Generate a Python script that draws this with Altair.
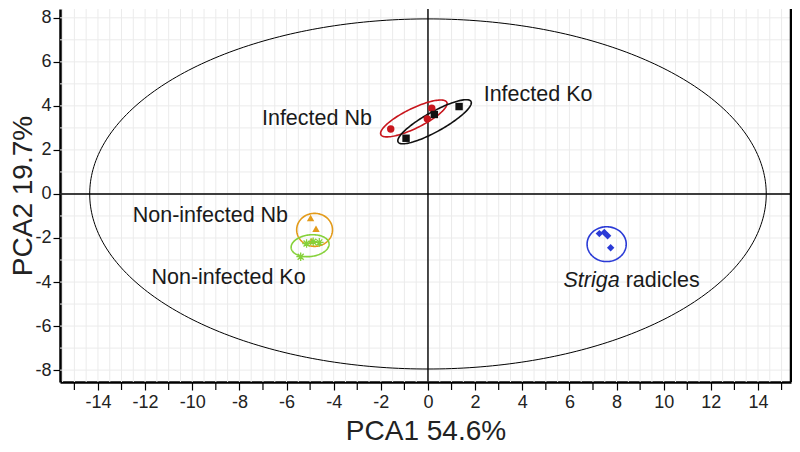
import altair as alt
import numpy as np
import pandas as pd

FONT = "Liberation Sans"

# ---------------- data ----------------
groups = ["Infected Nb", "Infected Ko", "Non-infected Nb", "Non-infected Ko", "Striga radicles"]
colors = ["#c8161d", "#111111", "#e39b1b", "#86d13a", "#2a3ad6"]
shapes = ["circle", "square", "triangle-up", "cross", "diamond"]

inf_nb_x = [-1.58, 0.16, -0.03]
inf_nb_y = [2.95, 3.89, 3.41]
inf_ko_x = [-0.93, 0.27, 1.32]
inf_ko_y = [2.53, 3.61, 3.97]
non_nb_x = [-4.98, -4.75, -4.93]
non_nb_y = [-1.09, -1.58, -2.13]
non_ko_x = [-5.15, -4.61, -5.40, -4.87]
non_ko_y = [-2.25, -2.20, -2.85, -2.17]
striga_x = [7.27, 7.48, 7.62, 7.75]
striga_y = [-1.80, -1.75, -1.90, -2.44]

# group confidence ellipses: centre, semi-axes, rotation (deg)
ell_cx = [-0.60, 0.28, -4.81, -5.00, 7.58]
ell_cy = [3.43, 3.28, -1.63, -2.35, -2.28]
ell_a = [1.58, 1.80, 0.76, 0.81, 0.83]
ell_b = [0.44, 0.44, 0.75, 0.49, 0.79]
ell_ang = [28, 31, 0, 8, 0]

# Hotelling T2 ellipse semi-axes
t2_a = 14.35
t2_b = 7.95

label_text = ["Infected Nb", "Infected Ko", "Non-infected Nb", "Non-infected Ko"]
label_x = [-4.71, 4.67, -9.23, -8.46]
label_y = [3.39, 4.48, -1.00, -3.80]
striga_label_x = [8.26]
striga_label_y = [-3.94]

x_major = list(range(-14, 15, 2))
x_minor = list(range(-15, 16, 2))
y_ticks = list(range(-8, 9))
x_grid = list(np.arange(-15.5, 15.01, 0.5))
y_grid = list(range(-8, 9))
origin = [0]

X_DOMAIN = [-15.61, 15.40]
Y_DOMAIN = [-8.54, 8.40]

# ---------------- tables ----------------
pts = pd.DataFrame({
    "x": inf_nb_x + inf_ko_x + non_nb_x + striga_x,
    "y": inf_nb_y + inf_ko_y + non_nb_y + striga_y,
    "g": [groups[0]] * 3 + [groups[1]] * 3 + [groups[2]] * 3 + [groups[4]] * 4,
})
stars = pd.DataFrame({"x": non_ko_x, "y": non_ko_y})

rows = []
t = np.linspace(0, 2 * np.pi, 121)
for i, g in enumerate(groups):
    th = np.deg2rad(ell_ang[i])
    ex = ell_cx[i] + ell_a[i] * np.cos(t) * np.cos(th) - ell_b[i] * np.sin(t) * np.sin(th)
    ey = ell_cy[i] + ell_a[i] * np.cos(t) * np.sin(th) + ell_b[i] * np.sin(t) * np.cos(th)
    for k in range(len(t)):
        rows.append({"g": g, "i": k, "x": ex[k], "y": ey[k]})
ells = pd.DataFrame(rows)

tt = np.linspace(0, 2 * np.pi, 361)
t2 = pd.DataFrame({"i": range(len(tt)), "x": t2_a * np.cos(tt), "y": t2_b * np.sin(tt)})

labels = pd.DataFrame({"t": label_text, "x": label_x, "y": label_y})
slab = pd.DataFrame({"x": striga_label_x, "y": striga_label_y})

xs = alt.Scale(domain=X_DOMAIN, nice=False, zero=False)
ys = alt.Scale(domain=Y_DOMAIN, nice=False, zero=False)
cscale = alt.Scale(domain=groups, range=colors)

x_axis = alt.Axis(
    values=x_major, labelOverlap=False, format="d",
    grid=False, tickSize=8, tickWidth=1.2, tickColor="black",
    domainColor="black", domainWidth=2.5, labelFontSize=18, labelFont=FONT,
    labelColor="#222222", labelPadding=3, labelFlush=False,
    title="PCA1 54.6%", titleFont=FONT, titleFontSize=28, titleFontWeight="normal",
    titleColor="#222222", titleBaseline="alphabetic", titleY=57, titleX=365.5,
    titleAlign="center",
)
y_axis = alt.Axis(
    values=y_ticks, labelExpr="datum.value % 2 == 0 ? toString(datum.value) : ''",
    labelOverlap=False,
    grid=False, tickSize=7, tickWidth=1.2, tickColor="black",
    domainColor="black", domainWidth=2.5, labelFontSize=18, labelFont=FONT,
    labelColor="#222222", labelPadding=2, labelFlush=False,
    title="PCA2 19.7%", titleFont=FONT, titleFontSize=28, titleFontWeight="normal",
    titleColor="#222222", titleBaseline="alphabetic", titleX=-29, titleY=186.5,
    titleAlign="center", titleAngle=270,
)

gx = alt.Chart(pd.DataFrame({"v": x_grid})).mark_rule(color="#ebebeb", strokeWidth=1).encode(
    x=alt.X("v:Q", scale=xs, axis=x_axis)
)
gy = alt.Chart(pd.DataFrame({"v": y_grid})).mark_rule(color="#ebebeb", strokeWidth=1).encode(
    y=alt.Y("v:Q", scale=ys, axis=y_axis)
)
minor_x = alt.Chart(pd.DataFrame({"v": x_minor})).mark_rule(color="black", strokeWidth=1.2).encode(
    x="v:Q", y=alt.value(alt.expr("height")), y2=alt.value(alt.expr("height + 8"))
)
zx = alt.Chart(pd.DataFrame({"v": origin})).mark_rule(color="black", strokeWidth=1.4).encode(
    x="v:Q"
)
zy = alt.Chart(pd.DataFrame({"v": origin})).mark_rule(color="black", strokeWidth=1.4).encode(
    y="v:Q"
)
right_border = alt.Chart(pd.DataFrame({"v": origin})).mark_rule(color="black", strokeWidth=2.5).encode(
    x=alt.value("width"), y=alt.value(0), y2=alt.value("height")
)

big = alt.Chart(t2).mark_line(color="black", strokeWidth=1).encode(
    x="x:Q", y="y:Q", order="i:Q"
)
small = alt.Chart(ells).mark_line(strokeWidth=1.6).encode(
    x="x:Q", y="y:Q", order="i:Q", detail="g:N",
    color=alt.Color("g:N", scale=cscale, legend=None),
)
marks = alt.Chart(pts).mark_point(filled=True, opacity=1, size=55).encode(
    x="x:Q", y="y:Q",
    color=alt.Color("g:N", scale=cscale, legend=None),
    shape=alt.Shape("g:N", scale=alt.Scale(domain=groups, range=shapes), legend=None),
)
star_marks = alt.Chart(stars).mark_point(
    shape="M-1,0L1,0M0,-1L0,1M-0.7,-0.7L0.7,0.7M-0.7,0.7L0.7,-0.7",
    filled=False, color=colors[3], strokeWidth=1.3, size=75, opacity=1,
).encode(x="x:Q", y="y:Q")

txt = alt.Chart(labels).mark_text(font=FONT, fontSize=21.5, color="#1a1a1a", baseline="middle").encode(
    x="x:Q", y="y:Q", text="t:N"
)
striga_it = alt.Chart(slab).mark_text(
    font=FONT, fontSize=21.5, color="#1a1a1a", baseline="middle", align="right",
    fontStyle="italic", dx=-3, text="Striga",
).encode(x="x:Q", y="y:Q")
striga_rest = alt.Chart(slab).mark_text(
    font=FONT, fontSize=21.5, color="#1a1a1a", baseline="middle", align="left",
    dx=3, text="radicles",
).encode(x="x:Q", y="y:Q")

chart = alt.layer(
    gx, gy, minor_x, zx, zy, big, small, marks, star_marks, txt, striga_it, striga_rest, right_border
).properties(
    width=731, height=373,
    padding={"left": 52, "top": 1, "right": 1, "bottom": 62},
    autosize=alt.AutoSizeParams(type="none"),
    background="white",
).configure(
    locale=alt.Locale(number=alt.NumberLocale(
        decimal=".", thousands=",", grouping=[3], currency=["", ""], minus="-"
    ))
).configure_view(stroke=None)

chart.save("out.html", embed_options={"renderer": "svg", "actions": False})
